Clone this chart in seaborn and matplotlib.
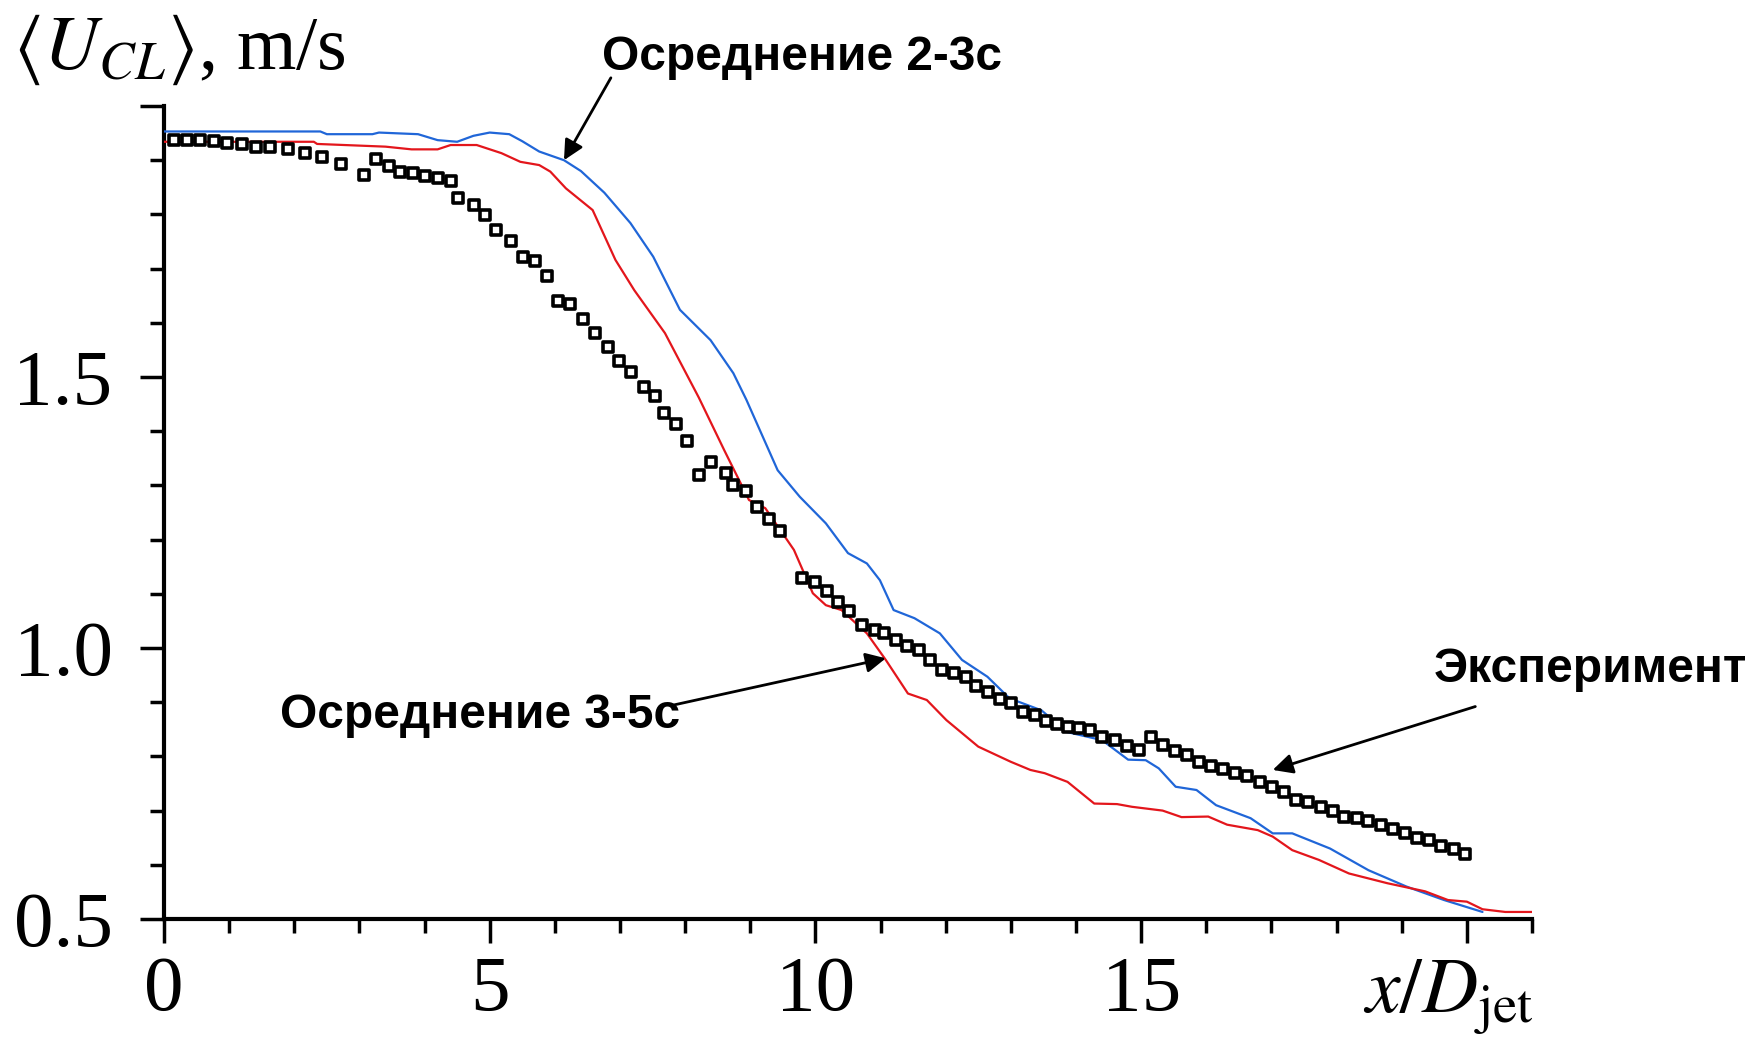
import numpy as np
import pandas as pd
import matplotlib
matplotlib.use("Agg")
import matplotlib.pyplot as plt
from matplotlib.ticker import MultipleLocator, FixedLocator, FixedFormatter
import seaborn as sns

# Mean centreline velocity, averaging window 2-3 s
avg23_x = [0.0, 2.4, 2.5, 3.2, 3.3, 3.9, 4.2, 4.5, 4.75, 5.0, 5.3, 5.5, 5.76, 6.14,
           6.4, 6.76, 7.16, 7.51, 7.92, 8.39, 8.74, 8.94, 9.42, 9.76, 10.16, 10.5,
           10.79, 10.99, 11.2, 11.52, 11.91, 12.25, 12.64, 12.98, 13.47, 13.86,
           14.4, 14.8, 15.07, 15.27, 15.53, 15.85, 16.15, 16.68, 17.02, 17.32,
           17.9, 18.49, 19.07, 19.65, 20.24]
avg23_u = [1.953, 1.953, 1.948, 1.948, 1.951, 1.948, 1.937, 1.934, 1.945, 1.951,
           1.948, 1.935, 1.916, 1.900, 1.880, 1.840, 1.784, 1.722, 1.624, 1.568,
           1.507, 1.458, 1.328, 1.279, 1.230, 1.175, 1.156, 1.125, 1.070, 1.055,
           1.027, 0.978, 0.947, 0.907, 0.885, 0.845, 0.830, 0.794, 0.793, 0.778,
           0.744, 0.738, 0.710, 0.686, 0.658, 0.658, 0.630, 0.590, 0.560, 0.535,
           0.513]

# Mean centreline velocity, averaging window 3-5 s
avg35_x = [0.0, 2.3, 2.35, 3.4, 3.8, 4.2, 4.4, 4.8, 5.18, 5.47, 5.76, 5.93, 6.17,
           6.58, 6.93, 7.22, 7.69, 8.21, 8.6, 8.98, 9.23, 9.67, 9.96, 10.16, 10.4,
           10.79, 11.08, 11.42, 11.71, 12.01, 12.5, 13.0, 13.3, 13.52, 13.87,
           14.28, 14.63, 14.86, 15.33, 15.62, 16.03, 16.32, 16.79, 17.02, 17.32,
           17.73, 18.19, 18.78, 19.36, 19.71, 20.0, 20.24, 20.59, 21.0]
avg35_u = [1.934, 1.934, 1.930, 1.925, 1.920, 1.920, 1.928, 1.928, 1.913, 1.897,
           1.891, 1.879, 1.848, 1.808, 1.716, 1.660, 1.581, 1.462, 1.365, 1.273,
           1.258, 1.181, 1.101, 1.079, 1.070, 1.027, 0.978, 0.916, 0.904, 0.867,
           0.818, 0.790, 0.775, 0.769, 0.753, 0.713, 0.712, 0.707, 0.700, 0.688,
           0.689, 0.674, 0.664, 0.652, 0.627, 0.609, 0.584, 0.566, 0.551, 0.535,
           0.532, 0.518, 0.513, 0.513]

# Measured centreline velocity
exp_x = [0.15, 0.36, 0.56, 0.77, 0.97, 1.20, 1.41, 1.63, 1.91, 2.16, 2.42, 2.71,
         3.07, 3.26, 3.45, 3.63, 3.82, 4.01, 4.20, 4.40, 4.52, 4.76, 4.93, 5.10,
         5.32, 5.51, 5.70, 5.88, 6.05, 6.24, 6.43, 6.62, 6.81, 6.99, 7.17, 7.37,
         7.54, 7.68, 7.86, 8.03, 8.21, 8.40, 8.62, 8.73, 8.94, 9.11, 9.28, 9.45,
         9.79, 10.0, 10.18, 10.35, 10.52, 10.72, 10.91, 11.05, 11.24, 11.41,
         11.59, 11.76, 11.95, 12.13, 12.31, 12.47, 12.65, 12.83, 13.0, 13.18,
         13.37, 13.54, 13.71, 13.88, 14.04, 14.22, 14.40, 14.60, 14.79, 14.97,
         15.15, 15.34, 15.52, 15.71, 15.89, 16.07, 16.25, 16.44, 16.63, 16.82,
         17.01, 17.19, 17.38, 17.56, 17.76, 17.94, 18.12, 18.31, 18.49, 18.68,
         18.86, 19.05, 19.23, 19.42, 19.61, 19.80, 19.97]
exp_u = [1.937, 1.937, 1.937, 1.935, 1.932, 1.929, 1.925, 1.925, 1.920, 1.913,
         1.906, 1.893, 1.873, 1.903, 1.890, 1.879, 1.876, 1.871, 1.867, 1.862,
         1.830, 1.817, 1.799, 1.772, 1.751, 1.722, 1.714, 1.687, 1.640, 1.635,
         1.607, 1.581, 1.555, 1.530, 1.510, 1.481, 1.465, 1.433, 1.413, 1.381,
         1.319, 1.343, 1.323, 1.301, 1.290, 1.261, 1.238, 1.215, 1.129, 1.121,
         1.105, 1.085, 1.069, 1.042, 1.034, 1.028, 1.015, 1.004, 0.996, 0.978,
         0.959, 0.954, 0.947, 0.930, 0.919, 0.905, 0.898, 0.882, 0.876, 0.866,
         0.860, 0.855, 0.852, 0.848, 0.836, 0.830, 0.819, 0.812, 0.835, 0.821,
         0.810, 0.803, 0.790, 0.783, 0.776, 0.770, 0.763, 0.753, 0.744, 0.735,
         0.720, 0.716, 0.707, 0.700, 0.689, 0.686, 0.680, 0.674, 0.666, 0.659,
         0.649, 0.646, 0.635, 0.629, 0.620]

x_major = [0, 5, 10, 15, 20]
x_labels = ["0", "5", "10", "15", ""]
y_major = [0.5, 1.0, 1.5, 2.0]
y_labels = ["0.5", "1.0", "1.5", ""]

label_23 = "Осреднение 2-3с"
label_35 = "Осреднение 3-5с"
label_exp = "Эксперимент"

sns.set_theme(style="ticks")
plt.rcParams["font.family"] = ["Liberation Serif", "DejaVu Serif"]
plt.rcParams["mathtext.fontset"] = "stix"

df23 = pd.DataFrame({"x": avg23_x, "u": avg23_u})
df35 = pd.DataFrame({"x": avg35_x, "u": avg35_u})
dfe = pd.DataFrame({"x": exp_x, "u": exp_u})

W, H = 1754, 1041
fig = plt.figure(figsize=(W / 100, H / 100), dpi=100)
fig.patch.set_facecolor("white")
ax = fig.add_axes([164 / W, 122 / H, (1532 - 164) / W, (935 - 122) / H])
ax.set_facecolor("white")

sns.lineplot(data=df23, x="x", y="u", ax=ax, color="#2066d8", lw=1.6,
             sort=False, estimator=None, zorder=3)
sns.lineplot(data=df35, x="x", y="u", ax=ax, color="#e3161c", lw=1.6,
             sort=False, estimator=None, zorder=3)
sns.scatterplot(data=dfe, x="x", y="u", ax=ax, marker="s", s=55,
                facecolor="white", edgecolor="black", linewidth=2.6, zorder=4)

ax.set_xlim(0, 21)
ax.set_ylim(0.5, 2.0)
ax.set_xlabel("")
ax.set_ylabel("")

for side in ("top", "right"):
    ax.spines[side].set_visible(False)
for side in ("left", "bottom"):
    ax.spines[side].set_linewidth(3.0)
    ax.spines[side].set_color("black")

ax.xaxis.set_major_locator(FixedLocator(x_major))
ax.xaxis.set_major_formatter(FixedFormatter(x_labels))
ax.xaxis.set_minor_locator(MultipleLocator(1))
ax.yaxis.set_major_locator(FixedLocator(y_major))
ax.yaxis.set_major_formatter(FixedFormatter(y_labels))
ax.yaxis.set_minor_locator(MultipleLocator(0.1))

ax.tick_params(axis="both", which="major", direction="out", length=17,
               width=2.5, color="black", labelsize=57, labelcolor="black")
ax.tick_params(axis="both", which="minor", direction="out", length=10,
               width=2.5, color="black")
ax.tick_params(axis="x", which="major", pad=9)
ax.tick_params(axis="y", which="major", pad=20)

# Axis titles
fig.text(13 / W, 1 - 50 / H, r"$\langle U_{CL}\rangle$, m/s", fontsize=55,
         ha="left", va="center", color="black")
fig.text(1534 / W, 1 - 997 / H, r"$x/D_{\rm jet}$", fontsize=56,
         ha="right", va="center", color="black")

# Callouts
sans_bold = dict(family=["Liberation Sans", "DejaVu Sans"], weight="bold",
                 fontsize=34.5, color="black", va="center", ha="left")
arrow = dict(arrowstyle="-|>", color="black", lw=2.0, mutation_scale=30,
             shrinkA=0, shrinkB=0)

ax.text(6.72, 2.089, label_23, clip_on=False, **sans_bold)
ax.annotate("", xy=(6.14, 1.900), xytext=(6.86, 2.052), arrowprops=arrow,
            annotation_clip=False)

ax.text(1.78, 0.875, label_35, **sans_bold)
ax.annotate("", xy=(11.08, 0.981), xytext=(7.83, 0.895), arrowprops=arrow)

ax.text(19.49, 0.961, label_exp, clip_on=False, **sans_bold)
ax.annotate("", xy=(17.02, 0.775), xytext=(20.13, 0.892), arrowprops=arrow,
            annotation_clip=False)

fig.savefig("out.png", dpi=100, facecolor="white")
